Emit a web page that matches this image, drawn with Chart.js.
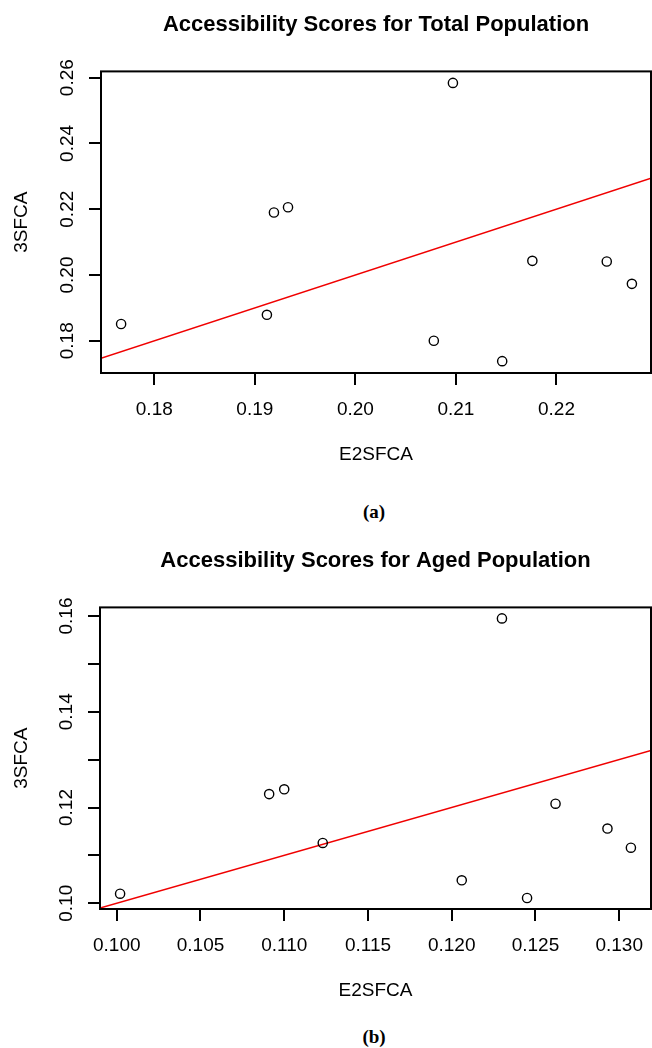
<!DOCTYPE html>
<html>
<head>
<meta charset="utf-8">
<script src="https://cdn.jsdelivr.net/npm/chart.js@4"></script>
<style>
  body { margin: 0; background: #fff; width: 652px; height: 1048px; position: relative; overflow: hidden; }
  .panel { position: absolute; left: 0; width: 652px; height: 480px; }
  .cap { position: absolute; left: 334px; width: 80px; text-align: center; line-height: 24px;
         font: bold 19px "Liberation Serif", "Times New Roman", serif; color: #000; }
</style>
</head>
<body>
<div class="panel" style="top:0"><canvas id="chartA"></canvas></div>
<div class="cap" style="top:501px">(a)</div>
<div class="panel" style="top:536px"><canvas id="chartB"></canvas></div>
<div class="cap" style="top:1026px">(b)</div>
<script>
// Total population: E2SFCA (x) vs 3SFCA (y)
var totalE2 = [0.1767, 0.1912, 0.1919, 0.1933, 0.2078, 0.2097, 0.2146, 0.2176, 0.2250, 0.2275];
var total3 = [0.1851, 0.1879, 0.2190, 0.2206, 0.1800, 0.2584, 0.1738, 0.2043, 0.2041, 0.1973];
// Aged population
var agedE2 = [0.1002, 0.1091, 0.1100, 0.1123, 0.1206, 0.1230, 0.1245, 0.1262, 0.1293, 0.1307];
var aged3 = [0.1020, 0.1228, 0.1238, 0.1126, 0.1048, 0.1595, 0.1011, 0.1208, 0.1156, 0.1116];

// reference line y = x, endpoints at the axis limits
var totalLineX = [0.1747, 0.2294];
var totalLineY = [0.1747, 0.2294];
var agedLineX = [0.0990, 0.1319];
var agedLineY = [0.0990, 0.1319];

// axis ranges
var totalXRange = [0.1747, 0.2294];
var totalYRange = [0.1702, 0.2619];
var agedXRange = [0.0990, 0.1319];
var agedYRange = [0.0988, 0.1618];

// ticks
var totalXTicks = [0.18, 0.19, 0.20, 0.21, 0.22];
var totalXLabels = ['0.18', '0.19', '0.20', '0.21', '0.22'];
var totalYTicks = [0.18, 0.20, 0.22, 0.24, 0.26];
var totalYLabels = ['0.18', '0.20', '0.22', '0.24', '0.26'];
var agedXTicks = [0.100, 0.105, 0.110, 0.115, 0.120, 0.125, 0.130];
var agedXLabels = ['0.100', '0.105', '0.110', '0.115', '0.120', '0.125', '0.130'];
var agedYTicks = [0.10, 0.11, 0.12, 0.13, 0.14, 0.15, 0.16];
var agedYLabels = ['0.10', '', '0.12', '', '0.14', '', '0.16'];

var FONT = '"Liberation Sans", Arial, sans-serif';

var framePlugin = {
    id: 'frame',
    afterDatasetsDraw: function(chart) {
        var a = chart.chartArea;
        var c = chart.ctx;
        c.save();
        c.strokeStyle = '#000';
        c.lineWidth = 2;
        c.strokeRect(a.left, a.top, a.right - a.left, a.bottom - a.top);
        c.restore();
    }
};

function toPoints(xs, ys) {
    var pts = [];
    for (var i = 0; i < xs.length; i++) {
        pts.push({ x: xs[i], y: ys[i] });
    }
    return pts;
}

function noPad(s) {
    s.paddingLeft = 0;
    s.paddingRight = 0;
    s.paddingTop = 0;
    s.paddingBottom = 0;
}

function buildChart(id, title, xs, ys, lx, ly, xr, yr, xt, xl, yt, yl, leftW) {
    var ctx = document.getElementById(id);
    return new Chart(ctx, {
        type: 'scatter',
        data: {
            datasets: [{
                data: toPoints(xs, ys),
                pointStyle: 'circle',
                pointRadius: 4.6,
                pointHoverRadius: 4.6,
                borderColor: '#000',
                backgroundColor: 'rgba(0,0,0,0)',
                borderWidth: 1.4
            }, {
                type: 'line',
                data: toPoints(lx, ly),
                borderColor: '#f00000',
                borderWidth: 1.5,
                pointRadius: 0,
                fill: false
            }]
        },
        options: {
            responsive: true,
            maintainAspectRatio: false,
            animation: false,
            events: [],
            layout: { autoPadding: false, padding: { left: 0, right: 1, top: 0, bottom: 0 } },
            plugins: {
                legend: { display: false },
                tooltip: { enabled: false },
                title: {
                    display: true,
                    fullSize: false,
                    text: title,
                    color: '#000',
                    font: { family: FONT, size: 22, weight: 'bold' },
                    padding: { top: 12, bottom: 33 }
                }
            },
            scales: {
                x: {
                    type: 'linear',
                    min: xr[0],
                    max: xr[1],
                    afterBuildTicks: function(s) {
                        s.ticks = xt.map(function(v) { return { value: v }; });
                    },
                    afterFit: function(s) { s.height = 107; noPad(s); },
                    grid: { drawOnChartArea: false, drawTicks: true, tickLength: 12, tickColor: '#000', lineWidth: 2 },
                    border: { display: false },
                    ticks: {
                        autoSkip: false,
                        maxRotation: 0,
                        color: '#000',
                        padding: 13,
                        font: { family: FONT, size: 19 },
                        callback: function(v, i) { return xl[i]; }
                    },
                    title: {
                        display: true,
                        text: 'E2SFCA',
                        color: '#000',
                        font: { family: FONT, size: 19 },
                        padding: { top: 0, bottom: 14 }
                    }
                },
                y: {
                    type: 'linear',
                    min: yr[0],
                    max: yr[1],
                    afterBuildTicks: function(s) {
                        s.ticks = yt.map(function(v) { return { value: v }; });
                    },
                    afterFit: function(s) { s.width = leftW; noPad(s); },
                    grid: { drawOnChartArea: false, drawTicks: true, tickLength: 12, tickColor: '#000', lineWidth: 2 },
                    border: { display: false },
                    ticks: {
                        autoSkip: false,
                        minRotation: 90,
                        maxRotation: 90,
                        crossAlign: 'center',
                        color: '#000',
                        padding: 3,
                        font: { family: FONT, size: 19 },
                        callback: function(v, i) { return yl[i]; }
                    },
                    title: {
                        display: true,
                        text: '3SFCA',
                        color: '#000',
                        font: { family: FONT, size: 19 },
                        padding: { top: 10, bottom: 0 }
                    }
                }
            }
        },
        plugins: [framePlugin]
    });
}

buildChart('chartA', 'Accessibility Scores for Total Population', totalE2, total3,
    totalLineX, totalLineY, totalXRange, totalYRange,
    totalXTicks, totalXLabels, totalYTicks, totalYLabels, 101);
buildChart('chartB', 'Accessibility Scores for Aged Population', agedE2, aged3,
    agedLineX, agedLineY, agedXRange, agedYRange,
    agedXTicks, agedXLabels, agedYTicks, agedYLabels, 100);
</script>
</body>
</html>
